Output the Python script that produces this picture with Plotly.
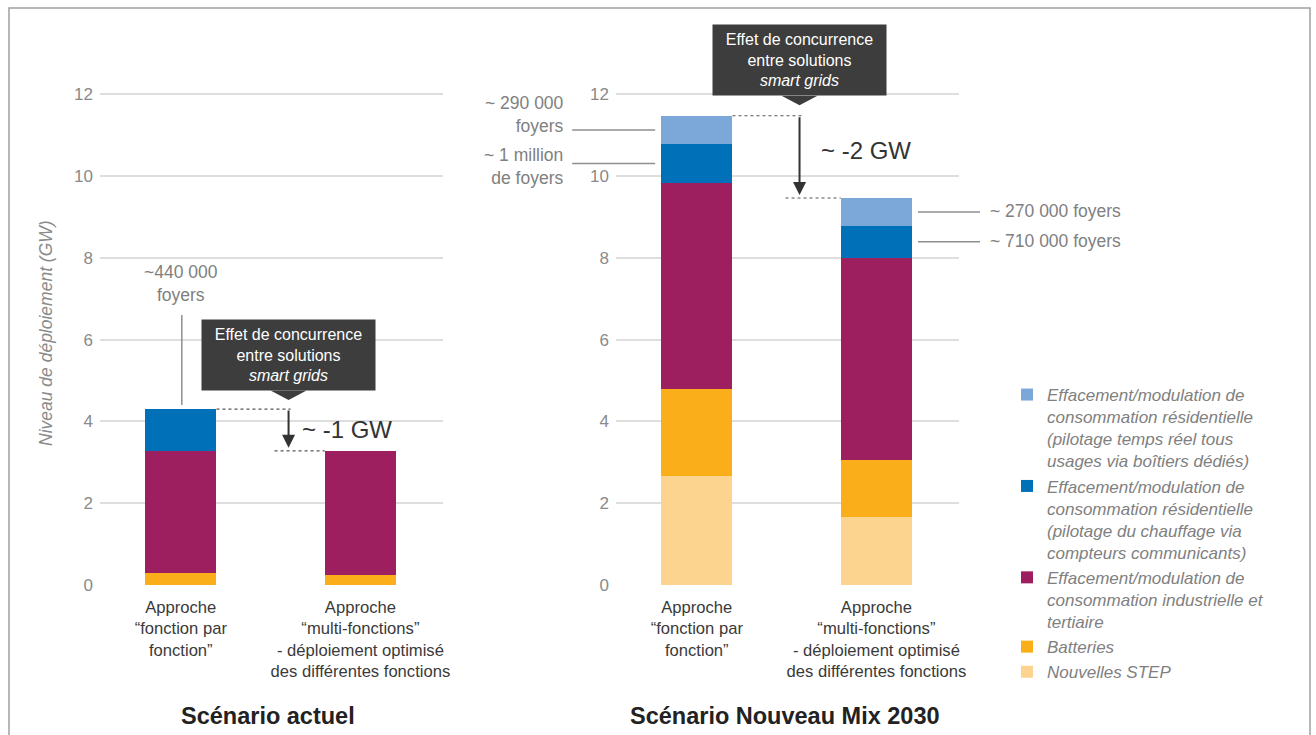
import plotly.graph_objects as go

W, H = 1316, 735

categories = ["Approche<br>“fonction par<br>fonction”",
              "Approche<br>“multi-fonctions”<br>- déploiement optimisé<br>des différentes fonctions"]
panels = ["Scénario actuel", "Scénario Nouveau Mix 2030"]

series_names = [
    "Nouvelles STEP",
    "Batteries",
    "Effacement/modulation de<br>consommation industrielle et<br>tertiaire",
    "Effacement/modulation de<br>consommation résidentielle<br>(pilotage du chauffage via<br>compteurs communicants)",
    "Effacement/modulation de<br>consommation résidentielle<br>(pilotage temps réel tous<br>usages via boîtiers dédiés)",
]
series_colors = ["#FDD390", "#F9AE1A", "#9E1F5F", "#0070B8", "#7BA7D9"]

# values per series: [actuel bar1, actuel bar2], [mix bar1, mix bar2]
actuel = [
    [0.0, 0.0],
    [0.30, 0.25],
    [2.98, 3.03],
    [1.02, 0.0],
    [0.0, 0.0],
]
mix2030 = [
    [2.66, 1.66],
    [2.13, 1.40],
    [5.04, 4.94],
    [0.95, 0.78],
    [0.69, 0.68],
]

y_ticks = [0, 2, 4, 6, 8, 10, 12]

XR = [-0.45, 1.46]
YR = [0, 14.3]
DOM = {1: [100 / W, 443 / W], 2: [616 / W, 959 / W]}
YD = [1 - 585 / H, 1.0]
BW = 0.397


def xp(panel, v, dpx=0):
    d = DOM[panel]
    return d[0] + (v - XR[0]) / (XR[1] - XR[0]) * (d[1] - d[0]) + dpx / W


def yp(v, dpx=0):
    return YD[0] + (v - YR[0]) / (YR[1] - YR[0]) * (YD[1] - YD[0]) + dpx / H


def ypx(dv):
    return dv / (YR[1] - YR[0]) * (YD[1] - YD[0]) * H


fig = go.Figure()
xs = [0, 1]
for i, name in enumerate(series_names):
    fig.add_trace(go.Bar(x=xs, y=actuel[i], name=name, marker_color=series_colors[i],
                         width=BW, xaxis="x", yaxis="y", legendgroup=str(i),
                         showlegend=False, marker_line_width=0))
    fig.add_trace(go.Bar(x=xs, y=mix2030[i], name=name, marker_color=series_colors[i],
                         width=BW, xaxis="x2", yaxis="y2", legendgroup=str(i),
                         showlegend=True, marker_line_width=0))

FONT = "Liberation Sans, Arial, sans-serif"
axis_common = dict(range=XR, tickvals=xs, ticktext=categories, showgrid=False,
                   zeroline=False, showline=False, ticks="", automargin=False,
                   ticklabelstandoff=10,
                   tickfont=dict(size=16.6, color="#3a3a3a", family=FONT), fixedrange=True)
yaxis_common = dict(range=YR, domain=YD, tickvals=y_ticks, showgrid=True, automargin=False,
                    gridcolor="#dedede", gridwidth=1.5, zeroline=False, showline=False,
                    tickfont=dict(size=17, color="#8a8a8a", family=FONT), ticks="",
                    ticklabelstandoff=6, fixedrange=True)

fig.update_layout(
    width=W, height=H,
    margin=dict(l=0, r=0, t=0, b=0, autoexpand=False),
    paper_bgcolor="white", plot_bgcolor="white",
    barmode="stack",
    font=dict(family=FONT),
    xaxis=dict(domain=DOM[1], anchor="y", **axis_common),
    yaxis=dict(anchor="x", **yaxis_common),
    xaxis2=dict(domain=DOM[2], anchor="y2", **axis_common),
    yaxis2=dict(anchor="x2", **yaxis_common),
    legend=dict(x=1007 / W, y=1 - 377 / H, xanchor="left", yanchor="top",
                traceorder="reversed", valign="top", tracegroupgap=1,
                font=dict(size=17, color="#808080", family=FONT, style="italic"),
                itemwidth=30, bgcolor="rgba(0,0,0,0)"),
    showlegend=True,
)

shapes = []
annotations = []

# outer frame
shapes.append(dict(type="rect", xref="paper", yref="paper", x0=9 / W, x1=1310 / W,
                   y0=-0.05, y1=1 - 8 / H, line=dict(color="#a0a0a0", width=1.5)))

# panel titles
for p, cx in [(panels[0], 268), (panels[1], 785)]:
    annotations.append(dict(text="<b>" + p + "</b>", x=cx / W, y=1 - 716 / H, xref="paper",
                            yref="paper", showarrow=False, yanchor="middle", xanchor="center",
                            font=dict(size=23.5, color="#222222", family=FONT)))

# y axis title
annotations.append(dict(text="Niveau de déploiement (GW)", x=46 / W, y=1 - 333 / H,
                        xref="paper", yref="paper", showarrow=False, textangle=-90,
                        xanchor="center", yanchor="middle",
                        font=dict(size=17.5, color="#8a8a8a", family=FONT, style="italic")))


def tops(vals, bar):
    t, out = 0, []
    for s in vals:
        t += s[bar]
        out.append(t)
    return out


tA1 = tops(actuel, 0)
tA2 = tops(actuel, 1)
tM1 = tops(mix2030, 0)
tM2 = tops(mix2030, 1)

DARK = "#3d3d3d"
GREY_LINE = "#8f8f8f"
LBL = dict(size=17.5, color="#808080", family=FONT)


def callout(panel, xc, ybottom):
    annotations.append(dict(text="Effet de concurrence<br>entre solutions<br><i>smart grids</i>",
                            x=xp(panel, xc), y=yp(ybottom, 9), xref="paper", yref="paper",
                            xanchor="center", yanchor="bottom", showarrow=False,
                            bgcolor=DARK, width=167, height=64, borderpad=3,
                            font=dict(size=16, color="white", family=FONT)))
    x0 = xp(panel, xc)
    shapes.append(dict(type="path", xref="paper", yref="paper",
                       path=f"M {x0 - 18 / W} {yp(ybottom, 9.5)} L {x0 + 18 / W} {yp(ybottom, 9.5)} L {x0} {yp(ybottom)} Z",
                       fillcolor=DARK, line=dict(width=0)))


def diff_arrow(panel, xc, yhi, ylo, label, ytext, toff):
    shapes.append(dict(type="line", xref="paper", yref="paper",
                       x0=xp(panel, BW / 2), x1=xp(panel, xc, 2), y0=yp(yhi), y1=yp(yhi),
                       line=dict(color="#555555", width=1.2, dash="dot")))
    shapes.append(dict(type="line", xref="paper", yref="paper",
                       x0=xp(panel, xc, -14), x1=xp(panel, 1 - BW / 2), y0=yp(ylo), y1=yp(ylo),
                       line=dict(color="#555555", width=1.2, dash="dot")))
    annotations.append(dict(x=xp(panel, xc), y=yp(ylo, 3), xref="paper", yref="paper",
                            ax=0, ay=-(ypx(yhi - ylo) - 3), axref="pixel", ayref="pixel",
                            showarrow=True, arrowhead=2, arrowsize=1.3, arrowwidth=2,
                            arrowcolor="#333333", text=""))
    annotations.append(dict(text=label, x=xp(panel, xc, toff), y=yp(ytext), xref="paper",
                            yref="paper", xanchor="left", yanchor="middle", showarrow=False,
                            font=dict(size=24, color="#333333", family=FONT)))


# --- left panel
callout(1, 0.6, 4.52)
diff_arrow(1, 0.6, tA1[-1], tA2[-1], "~ -1 GW", 3.79, 11)
annotations.append(dict(text="~440 000<br>foyers", x=xp(1, 0), y=yp(7.38), xref="paper",
                        yref="paper", showarrow=False, xanchor="center", yanchor="middle",
                        font=LBL))
shapes.append(dict(type="line", xref="paper", yref="paper", x0=xp(1, 0, 1), x1=xp(1, 0, 1),
                   y0=yp(tA1[-1], 4), y1=yp(6.6), line=dict(color=GREY_LINE, width=1.5)))

# --- right panel
callout(2, 0.572, 11.73)
diff_arrow(2, 0.572, tM1[-1], tM2[-1], "~ -2 GW", 10.63, 19)

mid_tr1 = (tM1[3] + tM1[4]) / 2
mid_ch1 = (tM1[2] + tM1[3]) / 2
mid_tr2 = (tM2[3] + tM2[4]) / 2
mid_ch2 = (tM2[2] + tM2[3]) / 2

for ym, txt, yt in [(mid_tr1, "~ 290 000<br>foyers", 11.51), (mid_ch1, "~ 1 million<br>de foyers", 10.23)]:
    shapes.append(dict(type="line", xref="paper", yref="paper", x0=xp(2, -BW / 2, -89),
                       x1=xp(2, -BW / 2, -6), y0=yp(ym), y1=yp(ym),
                       line=dict(color=GREY_LINE, width=1.5)))
    annotations.append(dict(text=txt, x=xp(2, -BW / 2, -95), y=yp(yt), xref="paper",
                            yref="paper", xanchor="right", yanchor="middle", align="right",
                            showarrow=False, font=LBL))

for ym, txt in [(mid_tr2, "~ 270 000 foyers"), (mid_ch2, "~ 710 000 foyers")]:
    shapes.append(dict(type="line", xref="paper", yref="paper", x0=xp(2, 1 + BW / 2, 6),
                       x1=xp(2, 1 + BW / 2, 68), y0=yp(ym), y1=yp(ym),
                       line=dict(color=GREY_LINE, width=1.5)))
    annotations.append(dict(text=txt, x=xp(2, 1 + BW / 2, 76), y=yp(ym, 1), xref="paper",
                            yref="paper", xanchor="left", yanchor="middle", showarrow=False,
                            font=LBL))

fig.update_layout(shapes=shapes, annotations=annotations)
fig.write_html("out.html")
